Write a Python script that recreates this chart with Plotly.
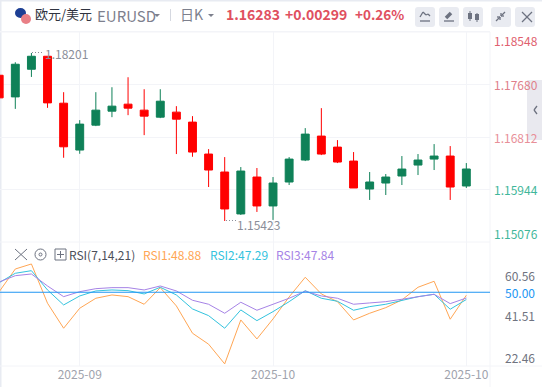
import plotly.graph_objects as go

idx = list(range(30))
opens = [1.17833,1.17475,1.17932,1.18147,1.17371,1.16596,1.17008,1.17239,1.17355,1.17256,1.17140,1.17223,1.17058,1.16530,1.16233,1.15540,1.16150,1.15672,1.16068,1.16431,1.16827,1.16645,1.16414,1.15952,1.16051,1.16167,1.16348,1.16447,1.16497,1.16002]
highs = [1.17833,1.18048,1.18201,1.18147,1.17553,1.17091,1.17553,1.17635,1.17800,1.17602,1.17602,1.17322,1.17157,1.16612,1.16480,1.16315,1.16299,1.16150,1.16480,1.16959,1.17289,1.16761,1.16563,1.16233,1.16200,1.16497,1.16530,1.16695,1.16662,1.16381]
lows = [1.17459,1.17277,1.17805,1.17294,1.16469,1.16535,1.16992,1.17140,1.17173,1.16843,1.17124,1.16530,1.16485,1.15985,1.15423,1.15523,1.15573,1.15441,1.16018,1.16414,1.16513,1.16381,1.15969,1.15771,1.15853,1.16018,1.16183,1.16266,1.15771,1.15969]
closes = [1.17459,1.18015,1.18147,1.17376,1.16650,1.17025,1.17256,1.17322,1.17289,1.17157,1.17404,1.17107,1.16563,1.16266,1.15622,1.16249,1.15672,1.16051,1.16447,1.16860,1.16530,1.16398,1.15969,1.16068,1.16150,1.16282,1.16431,1.16497,1.15985,1.16283]
rsi1 = [50.22,58.69,60.56,45.90,36.57,44.03,47.76,48.99,48.36,45.52,51.72,44.89,34.70,30.60,23.25,39.66,32.57,40.04,48.25,55.60,49.37,46.49,39.66,42.16,44.25,47.13,51.87,54.10,39.93,48.88]
rsi2 = [53.58,57.09,58.06,50.86,45.26,48.62,50.49,50.86,50.60,49.37,51.87,48.99,43.77,41.27,36.57,43.40,39.40,42.76,46.49,50.60,47.76,46.64,43.28,44.63,45.52,46.87,48.36,49.25,43.66,47.29]
rsi3 = [53.84,56.19,56.83,52.35,48.36,50.22,51.34,51.72,51.72,50.86,52.35,50.49,47.01,45.52,42.16,46.27,43.28,45.52,47.76,50.37,48.62,47.76,45.52,46.01,46.49,47.39,48.36,49.25,45.75,47.84]
price_ticks = [1.18548,1.17680,1.16812,1.15944,1.15076]
price_colors = ["#e0606e","#e0808a","#e88f98","#3fb79b","#3fb79b"]
rsi_ticks = [60.56,50.00,41.51,22.46]
date_pos = [5,17,29]
date_text = ["2025-09","2025-10","2025-10"]

FONT = "Noto Sans CJK SC, Noto Sans, sans-serif"
GRID = "#f3f4f8"
W, H, L, R, T, B = 542, 387, 0, 52, 32, 21
PW, PH = W-L-R, H-T-B
SPLIT = 242
px = lambda x: (x-L)/PW
py = lambda y: (H-B-y)/PH

fig = go.Figure()
fig.add_trace(go.Candlestick(x=idx, open=opens, high=highs, low=lows, close=closes,
    increasing=dict(line=dict(color="#0f8158", width=1), fillcolor="#0f8158"),
    decreasing=dict(line=dict(color="#ff0000", width=1), fillcolor="#ff0000"),
    whiskerwidth=0, showlegend=False, xaxis="x", yaxis="y"))
for vals, col in [(rsi1,"#ffa654"),(rsi2,"#33c3de"),(rsi3,"#a683e6")]:
    fig.add_trace(go.Scatter(x=idx, y=vals, mode="lines", line=dict(color=col, width=1),
                             showlegend=False, xaxis="x2", yaxis="y2"))

shapes, ann = [], []
def rect(x0,y0,x1,y1,fill,line=None,lw=0):
    shapes.append(dict(type="rect",xref="paper",yref="paper",x0=px(x0),x1=px(x1),y0=py(y0),y1=py(y1),
                       fillcolor=fill,line=dict(color=line or fill,width=lw),layer="below"))
def seg(x0,y0,x1,y1,col,lw=1,dash="solid"):
    shapes.append(dict(type="line",xref="paper",yref="paper",x0=px(x0),x1=px(x1),y0=py(y0),y1=py(y1),
                       line=dict(color=col,width=lw,dash=dash),layer="above"))
def text(x,y,s,col,size,anchor="left",bold=False):
    ann.append(dict(xref="paper",yref="paper",x=px(x),y=py(y),text=f"<b>{s}</b>" if bold else s,showarrow=False,
                    xanchor=anchor,yanchor="middle",font=dict(color=col,size=size,family=FONT),borderpad=0,borderwidth=0))

# frame
rect(0,0,542,1.5,"#e8ebf2")
rect(0,0,1.5,387,"#e8ebf2")
rect(0,31,490,32.5,"#f3f4f8")
seg(490,32,490,387,GRID)
seg(0,242,490,242,GRID)
seg(0,366,542,366,GRID)

# header
shapes.append(dict(type="circle",xref="paper",yref="paper",x0=px(15),x1=px(26),y0=py(8),y1=py(18),fillcolor="#1d3f94",line=dict(width=0),layer="above"))
shapes.append(dict(type="circle",xref="paper",yref="paper",x0=px(21),x1=px(31),y0=py(14),y1=py(24),fillcolor="#e97f86",line=dict(width=0),layer="above"))
text(35,14,"欧元/美元","#2f3340",13)
text(97,15,"EURUSD","#7d808d",15)
shapes.append(dict(type="path",xref="paper",yref="paper",path=f"M {px(154)} {py(14)} L {px(160)} {py(14)} L {px(157)} {py(17)} Z",fillcolor="#7d808d",line=dict(width=0)))
seg(170.5,9,170.5,21,"#d5d8e0")
text(180,14,"日K","#7d808d",14)
shapes.append(dict(type="path",xref="paper",yref="paper",path=f"M {px(208)} {py(14)} L {px(214)} {py(14)} L {px(211)} {py(17)} Z",fillcolor="#7d808d",line=dict(width=0)))
text(226,14,"1.16283","#e0505f",14,bold=True)
text(285,14,"+0.00299","#e0505f",14,bold=True)
text(355,14,"+0.26%","#e0505f",13.5,bold=True)

# toolbar buttons
for x0 in (415,439,463,491,515):
    shapes.append(dict(type="path",xref="paper",yref="paper",layer="below",fillcolor="#e9ebf1",line=dict(width=0),
        path=" ".join([f"M {px(x0+3)} {py(7)}",f"L {px(x0+17)} {py(7)}",f"Q {px(x0+20)} {py(7)} {px(x0+20)} {py(10)}",
                       f"L {px(x0+20)} {py(24)}",f"Q {px(x0+20)} {py(27)} {px(x0+17)} {py(27)}",f"L {px(x0+3)} {py(27)}",
                       f"Q {px(x0)} {py(27)} {px(x0)} {py(24)}",f"L {px(x0)} {py(10)}",f"Q {px(x0)} {py(7)} {px(x0+3)} {py(7)}","Z"])))
ICON = "#6d7280"
for a in [(420,17,423,12),(423,12,426,15),(426,15,428,14),(428,14,430,16),(420,21,430,21),
          (444,21,454,21)]:
    seg(*a,ICON,1.3)
seg(446,18,451,13,ICON,3.5)
for a in [(496,21,500,17),(505,12,501,16),(500,17,497,17),(500,17,500,20),(501,16,504,16),(501,16,501,13),
          (522,12,532,22),(532,12,522,22)]:
    seg(*a,ICON,1.3)
for x,y0,y1,w0,w1 in [(470,11,21,13,19),(477,13,22,14,20)]:
    seg(x,y0,x,y1,ICON,1)
    rect(x-2,w0,x+2,w1,ICON)

# price labels
for v,c in zip(price_ticks,price_colors):
    shift = {1.18548:-8,1.15076:9}.get(v,0)
    ann.append(dict(xref="paper",yref="y",x=px(492),y=v,yshift=shift,text=f"{v:.5f}",showarrow=False,xanchor="left",yanchor="middle",
                    font=dict(color=c,size=12,family=FONT)))
# extreme labels
ann.append(dict(xref="x",yref="y",x=2,y=1.18201,text="1.18201",showarrow=False,xanchor="left",yanchor="middle",xshift=12,yshift=-1,
                font=dict(color="#8b8e99",size=12,family=FONT)))
ann.append(dict(xref="x",yref="y",x=14,y=1.15423,text="1.15423",showarrow=False,xanchor="left",yanchor="middle",xshift=10,yshift=-3,
                font=dict(color="#8b8e99",size=12,family=FONT)))
seg(32,52.5,44,52.5,"#8b8e99",1,"1px,2px")
seg(226,220.5,236,220.5,"#8b8e99",1,"1px,2px")
# RSI labels
for v in rsi_ticks:
    shift = {60.56:-12,22.46:9,41.51:-1}.get(v,0)
    col = "#2196f3" if v==50 else "#6f7380"
    ann.append(dict(xref="paper",yref="y2",x=px(537),y=v,yshift=shift,text=f"{v:.2f}",showarrow=False,xanchor="right",yanchor="middle",
                    font=dict(color=col,size=12,family=FONT)))
# RSI header
for a in [(15,249,27,260),(27,249,15,260)]:
    seg(*a,"#6d7280",1)
shapes.append(dict(type="circle",xref="paper",yref="paper",x0=px(35),x1=px(46),y0=py(249),y1=py(260),fillcolor="rgba(0,0,0,0)",line=dict(color="#6d7280",width=1)))
shapes.append(dict(type="circle",xref="paper",yref="paper",x0=px(39),x1=px(42),y0=py(253),y1=py(256),fillcolor="rgba(0,0,0,0)",line=dict(color="#6d7280",width=1)))
rect(55,249,66,260,"rgba(0,0,0,0)","#6d7280",1)
seg(57,254.5,64,254.5,"#6d7280"); seg(60.5,251,60.5,258,"#6d7280")
text(69,254,"RSI(7,14,21)","#4c4f5a",12)
text(143,254,"RSI1:48.88","#ffa654",12)
text(210,254,"RSI2:47.29","#33c3de",12)
text(276,254,"RSI3:47.84","#a683e6",12)

# right collapse tab
rect(527,80,542,140,"#e9e9ef")
seg(537,106,534,110,"#6d7280",1.3); seg(534,110,537,114,"#6d7280",1.3)

xcommon = dict(range=[0.05,30.47],tickvals=date_pos,showgrid=True,gridcolor=GRID,gridwidth=1,zeroline=False,showline=False,ticks="")
fig.update_layout(
    width=W,height=H,autosize=False,margin=dict(l=L,r=R,t=T,b=B),
    paper_bgcolor="white",plot_bgcolor="white",showlegend=False,dragmode=False,
    font=dict(family=FONT,size=12),
    xaxis=dict(xcommon,domain=[0,1],anchor="y",showticklabels=False,rangeslider=dict(visible=False)),
    xaxis2=dict(xcommon,domain=[0,1],anchor="y2",ticktext=date_text,showticklabels=True,tickfont=dict(color="#a0a3ad",size=12,family=FONT)),
    yaxis=dict(domain=[py(SPLIT),1],range=[1.15076,1.18548],tickvals=price_ticks,showticklabels=False,gridcolor=GRID,zeroline=False,showline=False),
    yaxis2=dict(domain=[0,py(SPLIT)],range=[22.46,68.77],tickvals=rsi_ticks,showticklabels=False,showgrid=False,zeroline=False,showline=False),
    shapes=shapes+[dict(type="line",xref="paper",yref="y2",x0=0,x1=1,y0=50,y1=50,line=dict(color="#2196f3",width=1.2),layer="above")],
    annotations=ann,
)
fig.write_html("out.html",config=dict(displayModeBar=False,responsive=False),
               post_script="document.body.style.margin='0';document.documentElement.style.overflow='hidden';")
